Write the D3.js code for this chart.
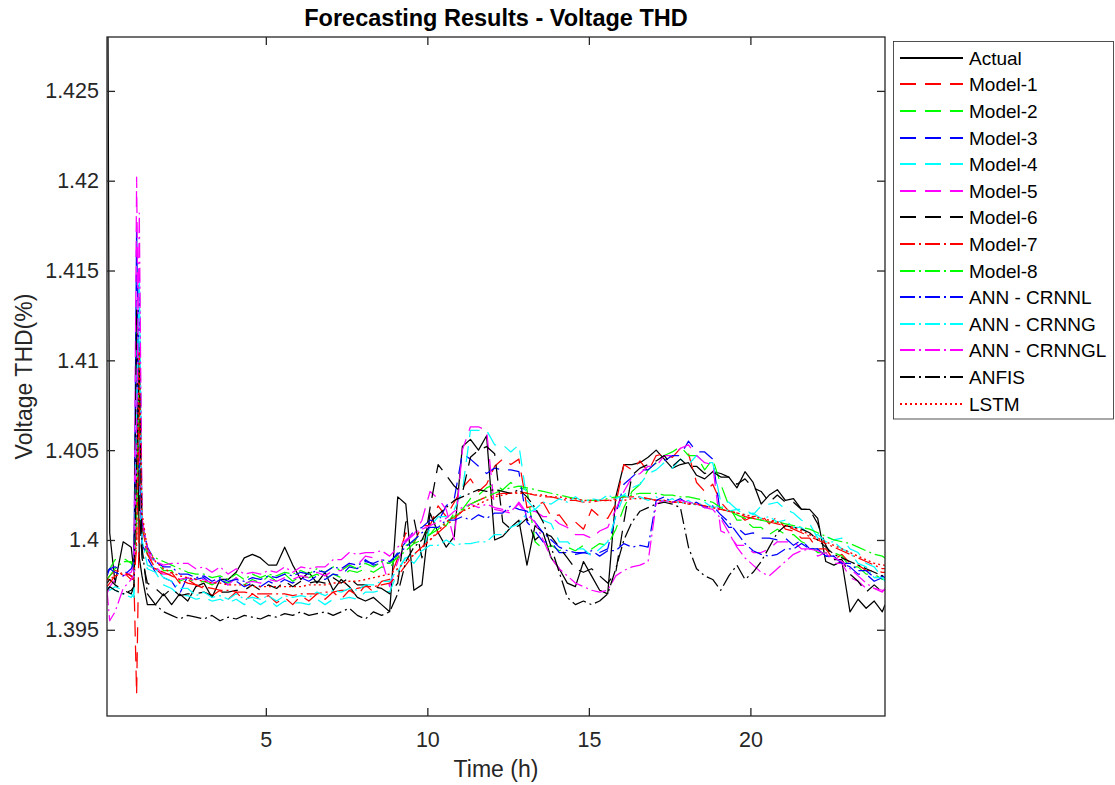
<!DOCTYPE html>
<html><head><meta charset="utf-8">
<script src="https://cdn.jsdelivr.net/npm/d3@7"></script>
<style>
html,body{margin:0;padding:0;background:#fff;}
svg{display:block;font-family:"Liberation Sans",Arial,Helvetica,sans-serif;}
</style></head><body>
<svg id="chart" width="1115" height="785"></svg>
<script>
// Sampling instants, counted in 5-minute steps since midnight
const sampleSteps = [1, 2, 4, 7, 10, 11, 12, 13, 14, 16].concat(d3.range(19, 290, 3), [290]);
const hours = sampleSteps.map(k => k / 12);

const hourLimits = [1 / 12, 290 / 12];
const thdLimits = [1.3902, 1.428];
const hourTicks = [5, 10, 15, 20];
const thdTicks = [1.395, 1.4, 1.405, 1.41, 1.415, 1.42, 1.425];

// Voltage THD (%) per series
const actual = [1.4450,1.4004,1.3976,1.3999,1.3996,1.3982,1.4125,1.3990,1.3980,1.3964,
1.3964,1.3970,1.3964,1.3970,1.3966,1.3974,1.3976,1.3968,1.3978,1.3978,
1.3982,1.3990,1.3992,1.3990,1.3986,1.3986,1.3996,1.3986,1.3978,1.3982,
1.3976,1.3982,1.3972,1.3978,1.3974,1.3968,1.3966,1.3968,1.3964,1.3960,
1.4024,1.4020,1.3972,1.3975,1.4015,1.4004,1.3996,1.4002,1.4052,1.4056,
1.4050,1.4058,1.4000,1.4002,1.4007,1.4011,1.3986,1.4008,1.4004,1.3990,
1.3984,1.3976,1.3974,1.3988,1.3980,1.3972,1.3970,1.4024,1.4042,1.4042,
1.4043,1.4046,1.4050,1.4045,1.4040,1.4042,1.4043,1.4036,1.4034,1.4038,
1.4037,1.4035,1.4029,1.4038,1.4032,1.4020,1.4025,1.4028,1.4022,1.4023,
1.4017,1.4017,1.4012,1.3988,1.3986,1.3988,1.3960,1.3967,1.3962,1.3966,1.3960,
1.3964];

const model1 = [1.3978,1.3980,1.3983,1.3982,1.3978,1.3978,1.3914,1.4012,1.3992,1.3986,
1.3984,1.3980,1.3982,1.3976,1.3978,1.3975,
1.3973,1.3969,1.3972,1.3967,1.3971,1.3966,1.3970,1.3967,
1.3969,1.3965,1.3968,1.3964,1.3969,1.3966,1.3970,1.3967,
1.3971,1.3967,1.3972,1.3969,1.3975,1.3971,1.3977,1.3978,
1.3990,1.4004,1.3998,1.4008,
1.4008,1.4019,1.4013,1.4021,1.4029,1.4034,1.4027,1.4031,
1.4041,1.4045,1.4042,1.4045,1.4018,
1.4019,1.4021,1.4013,1.4014,1.4008,1.4010,1.4006,
1.4017,1.4013,1.4012,1.4020,1.4042,1.4039,1.4044,1.4038,
1.4047,1.4048,1.4046,1.4051,1.4048,1.4032,1.4027,1.4031,
1.4021,1.4016,1.4015,1.4011,1.4013,1.4014,1.4009,1.4013,
1.4006,1.4005,1.4001,1.4001,1.3995,1.3995,1.3989,1.3992,
1.3987,1.3986,1.3983,1.3983,1.3982,
1.3982];

const model2 = [1.3982,1.3984,1.3989,1.3990,1.3987,1.3984,1.4020,1.4111,1.4000,1.3992,
1.3988,1.3983,1.3983,1.3977,1.3979,1.3976,
1.3977,1.3975,1.3978,1.3976,1.3979,1.3975,1.3978,1.3976,
1.3980,1.3977,1.3981,1.3977,1.3980,1.3979,1.3981,1.3978,
1.3981,1.3979,1.3983,1.3982,1.3984,1.3982,1.3985,1.3984,
1.3992,1.3997,1.3999,1.4005,
1.4003,1.4009,1.4008,1.4015,1.4017,1.4023,1.4025,1.4029,
1.4031,1.4028,1.4032,1.4029,1.4028,
1.3999,1.3995,1.3997,1.3994,1.3996,1.3994,1.3997,
1.3995,1.3998,1.3997,1.4006,1.4018,1.4027,1.4031,1.4039,
1.4043,1.4047,1.4049,1.4052,1.4047,1.4047,1.4039,1.4045,
1.4031,1.4019,1.4011,1.4011,1.4007,1.4007,1.4003,1.4006,
1.4003,1.4003,1.3999,1.3997,1.3993,1.3993,1.3993,1.3991,
1.3985,1.3985,1.3981,1.3981,1.3978,
1.3978];

const model3 = [1.3980,1.3984,1.3985,1.3983,1.3980,1.3978,1.4175,1.4040,1.3998,1.3990,
1.3982,1.3979,1.3977,1.3970,1.3980,1.3978,
1.3979,1.3975,1.3978,1.3975,1.3977,1.3974,1.3976,1.3974,
1.3977,1.3975,1.3978,1.3976,1.3979,1.3977,1.3980,1.3978,
1.3981,1.3980,1.3985,1.3984,1.3989,1.3986,1.3987,1.3987,
1.3993,1.3999,1.4005,1.4007,
1.4011,1.4010,1.4019,1.4023,1.4048,1.4045,1.4041,1.4037,
1.4040,1.4039,1.4039,1.4038,1.4010,
1.4005,1.3999,1.3999,1.3993,1.3993,1.3992,1.3993,
1.3992,1.3993,1.3995,1.4014,1.4031,1.4035,1.4039,1.4039,
1.4043,1.4044,1.4047,1.4047,1.4055,1.4049,1.4049,1.4045,
1.4013,1.4007,1.4007,1.4003,1.4004,1.4001,1.4001,1.4000,
1.4001,1.3997,1.4000,1.3995,1.3995,1.3991,1.3991,1.3987,
1.3985,1.3981,1.3981,1.3977,1.3979,
1.3977];

const model4 = [1.3974,1.3972,1.3974,1.3972,1.3970,1.3968,1.4120,1.4030,1.3992,1.3984,
1.3982,1.3975,1.3973,1.3969,1.3969,1.3967,
1.3968,1.3966,1.3967,1.3965,1.3967,1.3964,1.3967,1.3964,
1.3967,1.3963,1.3966,1.3965,1.3965,1.3964,1.3967,1.3964,
1.3967,1.3967,1.3968,1.3967,1.3971,1.3971,1.3972,1.3971,
1.3982,1.3991,1.3987,1.3993,
1.4007,1.4013,1.4013,1.4017,1.4027,1.4061,1.4061,1.4061,
1.4053,1.4053,1.4049,1.4053,1.4022,
1.4017,1.4011,1.4009,1.3999,1.3999,1.3995,1.3995,
1.3991,1.3995,1.3999,1.4013,1.4025,1.4029,1.4031,1.4037,
1.4039,1.4043,1.4040,1.4045,1.4042,1.4047,1.4043,1.4043,
1.4021,1.4021,1.4017,1.4017,1.4014,1.4019,1.4020,1.4021,
1.4017,1.4015,1.4011,1.4009,1.4001,1.4002,1.4000,1.4001,
1.3995,1.3993,1.3987,1.3985,1.3979,
1.3979];

const model5 = [1.3970,1.3974,1.3978,1.3980,1.3982,1.3986,1.4202,1.4050,1.4000,1.3994,
1.3985,1.3981,1.3981,1.3978,1.3979,1.3977,
1.3978,1.3976,1.3977,1.3975,1.3979,1.3976,1.3977,1.3976,
1.3978,1.3977,1.3979,1.3978,1.3980,1.3979,1.3982,1.3980,
1.3983,1.3983,1.3987,1.3986,1.3991,1.3990,1.3989,1.3974,
1.3988,1.3999,1.4003,1.4011,
1.4027,1.4023,1.4017,1.4000,1.4050,1.4063,1.4063,1.4061,
1.4017,1.4016,1.4015,1.4021,1.4015,
1.4016,1.4013,1.4013,1.4009,1.4007,1.4003,1.4003,
1.4001,1.4005,1.4007,1.4017,1.4027,1.4035,1.4037,1.4041,
1.4041,1.4047,1.4047,1.4051,1.4053,1.4047,1.4043,1.4042,
1.4005,1.4003,1.3997,1.3997,1.3993,1.3993,1.3995,1.3999,
1.3999,1.3999,1.3995,1.3995,1.3991,1.3993,1.3987,1.3987,
1.3979,1.3977,1.3973,1.3973,1.3971,
1.3973];

const model6 = [1.3976,1.3978,1.3975,1.3972,1.3970,1.3974,1.4128,1.4020,1.3990,1.3976,
1.3973,1.3969,1.3973,1.3969,1.3970,1.3970,
1.3971,1.3969,1.3971,1.3971,1.3972,1.3972,1.3975,1.3972,
1.3975,1.3973,1.3977,1.3974,1.3977,1.3976,1.3977,1.3976,
1.3979,1.3976,1.3979,1.3975,1.3975,1.3974,1.3973,1.3970,
1.3976,1.4010,1.4012,1.3990,
1.4018,1.4042,1.4036,1.4030,1.4026,1.4046,1.4050,1.4052,
1.4048,1.4010,1.4006,1.4008,1.4012,
1.4000,1.4004,1.4002,1.3996,1.3990,1.3984,1.3982,
1.3984,1.3980,1.3976,1.3982,1.4010,1.4036,1.4040,1.4042,
1.4044,1.4047,1.4041,1.4045,1.4041,1.4041,1.4037,1.4038,
1.4035,1.4035,1.4031,1.4034,1.4029,1.4027,1.4021,1.4025,
1.4021,1.4021,1.4017,1.4017,1.4009,1.3997,1.3989,1.3989,
1.3981,1.3977,1.3971,1.3975,1.3971,
1.3973];

const model7 = [1.3974,1.3976,1.3980,1.3982,1.3980,1.3978,1.3996,1.4080,1.4008,1.3992,
1.3984,1.3982,1.3980,1.3978,1.3976,1.3975,
1.3974,1.3973,1.3972,1.3972,1.3971,1.3971,1.3970,1.3970,
1.3970,1.3970,1.3970,1.3969,1.3970,1.3970,1.3970,1.3971,
1.3971,1.3972,1.3972,1.3973,1.3974,1.3974,1.3975,1.3976,
1.3980,1.3986,1.3992,1.3996,
1.4000,1.4004,1.4008,1.4012,1.4016,1.4020,1.4022,1.4024,
1.4025,1.4026,1.4026,1.4027,1.4026,
1.4025,1.4024,1.4024,1.4023,1.4022,1.4022,1.4021,
1.4021,1.4022,1.4022,1.4023,1.4024,1.4024,1.4024,1.4023,
1.4022,1.4022,1.4021,1.4021,1.4020,1.4020,1.4019,1.4018,
1.4017,1.4016,1.4015,1.4013,1.4012,1.4011,1.4010,1.4009,
1.4008,1.4006,1.4004,1.4002,1.4000,1.3998,1.3996,1.3994,
1.3992,1.3990,1.3988,1.3986,1.3984,
1.3984];

const model8 = [1.3978,1.3980,1.3984,1.3988,1.3988,1.3986,1.4010,1.4100,1.4012,1.3994,
1.3990,1.3988,1.3986,1.3984,1.3982,1.3981,
1.3981,1.3979,1.3980,1.3978,1.3981,1.3978,1.3981,1.3979,
1.3981,1.3980,1.3982,1.3981,1.3983,1.3981,1.3984,1.3982,
1.3985,1.3983,1.3986,1.3984,1.3987,1.3985,1.3988,1.3987,
1.3990,1.3994,1.3998,1.4000,
1.4003,1.4006,1.4010,1.4013,1.4016,1.4020,1.4022,1.4024,
1.4026,1.4028,1.4029,1.4030,1.4029,
1.4028,1.4027,1.4026,1.4025,1.4024,1.4023,1.4022,
1.4022,1.4022,1.4023,1.4024,1.4024,1.4025,1.4026,1.4026,
1.4026,1.4025,1.4025,1.4024,1.4024,1.4023,1.4022,1.4021,
1.4018,1.4016,1.4014,1.4012,1.4012,1.4011,1.4010,1.4010,
1.4009,1.4008,1.4007,1.4006,1.4004,1.4002,1.4000,1.3999,
1.3998,1.3996,1.3994,1.3992,1.3991,
1.3990];

const annCrnnl = [1.3982,1.3984,1.3982,1.3980,1.3984,1.3988,1.4050,1.4150,1.4010,1.3996,
1.3988,1.3985,1.3985,1.3981,1.3981,1.3979,
1.3980,1.3977,1.3979,1.3977,1.3978,1.3977,1.3979,1.3978,
1.3980,1.3979,1.3981,1.3980,1.3982,1.3981,1.3983,1.3982,
1.3985,1.3984,1.3987,1.3986,1.3988,1.3987,1.3989,1.3988,
1.3992,1.3996,1.4000,1.4004,
1.4007,1.4007,1.4011,1.4011,1.4013,1.4011,1.4014,1.4012,
1.4015,1.4015,1.4019,1.4017,1.4016,
1.4010,1.4004,1.4000,1.3996,1.3994,1.3993,1.3993,
1.3994,1.3991,1.3994,1.3994,1.3998,1.3996,1.3997,1.3996,
1.4022,1.4024,1.4021,1.4023,1.4020,1.4021,1.4018,1.4019,
1.4014,1.4010,1.4004,1.3998,1.3994,1.3992,1.3991,1.3992,
1.3995,1.3995,1.3998,1.3995,1.3995,1.3991,1.3991,1.3987,
1.3987,1.3983,1.3983,1.3979,1.3980,
1.3979];

const annCrnng = [1.3972,1.3974,1.3972,1.3970,1.3968,1.3970,1.4070,1.4145,1.4000,1.3986,
1.3984,1.3979,1.3977,1.3973,1.3973,1.3969,
1.3971,1.3968,1.3969,1.3967,1.3970,1.3967,1.3968,1.3967,
1.3969,1.3966,1.3969,1.3968,1.3969,1.3968,1.3971,1.3969,
1.3972,1.3971,1.3973,1.3972,1.3975,1.3975,1.3977,1.3977,
1.3984,1.3990,1.3992,1.3994,
1.3997,1.3997,1.4000,1.3997,1.3998,1.3998,1.3999,1.3999,
1.4003,1.4003,1.4007,1.4009,1.4015,
1.4017,1.4021,1.4020,1.4023,1.4021,1.4024,1.4021,
1.4023,1.4022,1.4025,1.4023,1.4025,1.4023,1.4024,1.4022,
1.4024,1.4021,1.4023,1.4020,1.4022,1.4019,1.4021,1.4018,
1.4019,1.4016,1.4017,1.4014,1.4015,1.4012,1.4013,1.4010,
1.4011,1.4007,1.4007,1.4003,1.4003,1.3999,1.3999,1.3995,
1.3993,1.3987,1.3985,1.3979,1.3979,
1.3977];

const annCrnngl = [1.3972,1.3955,1.3960,1.3973,1.3978,1.3980,1.4060,1.4182,1.4012,1.3995,
1.3988,1.3986,1.3987,1.3987,1.3987,1.3984,
1.3985,1.3982,1.3985,1.3981,1.3984,1.3981,1.3982,1.3981,
1.3983,1.3982,1.3985,1.3982,1.3985,1.3984,1.3985,1.3985,
1.3989,1.3989,1.3993,1.3992,1.3993,1.3993,1.3994,1.3991,
1.3996,1.4000,1.4004,1.4006,
1.4008,1.4010,1.4012,1.4016,1.4018,1.4020,1.4018,1.4020,
1.4018,1.4017,1.4016,1.4020,1.4014,
1.4010,1.4000,1.3990,1.3984,1.3980,1.3976,1.3974,
1.3972,1.3971,1.3972,1.3980,1.3983,1.3985,1.3986,1.3988,
1.4020,1.4022,1.4021,1.4022,1.4021,1.4020,1.4018,1.4017,
1.4012,1.4004,1.3996,1.3990,1.3986,1.3982,1.3980,1.3984,
1.3988,1.3992,1.3994,1.3995,1.3994,1.3992,1.3990,1.3988,
1.3984,1.3980,1.3976,1.3973,1.3972,
1.3972];

const anfis = [1.3972,1.3974,1.3972,1.3970,1.3972,1.3974,1.4040,1.4095,1.3996,1.3970,
1.3964,1.3960,1.3958,1.3956,1.3958,1.3957,
1.3956,1.3958,1.3955,1.3957,1.3956,1.3958,1.3957,1.3956,
1.3958,1.3957,1.3959,1.3958,1.3960,1.3958,1.3959,1.3960,
1.3958,1.3960,1.3962,1.3958,1.3956,1.3960,1.3958,1.3960,
1.3970,1.3988,1.3996,1.4000,
1.4010,1.4014,1.4018,1.4022,1.4024,1.4026,1.4028,1.4027,
1.4028,1.4027,1.4026,1.4028,1.4024,
1.4018,1.4010,1.3996,1.3982,1.3968,1.3964,1.3966,
1.3964,1.3966,1.3970,1.3984,1.4000,1.4010,1.4016,1.4018,
1.4020,1.4021,1.4020,1.4018,1.3996,1.3984,1.3980,1.3978,
1.3972,1.3980,1.3986,1.3978,1.3982,1.3988,1.3996,1.4004,
1.4008,1.4007,1.4006,1.4004,1.4000,1.3996,1.3992,1.3990,
1.3988,1.3986,1.3984,1.3982,1.3980,
1.3980];

const lstm = [1.3978,1.3978,1.3980,1.3981,1.3980,1.3980,1.4000,1.4105,1.4015,1.3995,
1.3988,1.3984,1.3982,1.3980,1.3979,1.3978,
1.3977,1.3976,1.3976,1.3975,1.3975,1.3975,1.3974,1.3974,
1.3974,1.3974,1.3974,1.3974,1.3974,1.3975,1.3975,1.3975,
1.3976,1.3976,1.3977,1.3977,1.3978,1.3979,1.3980,1.3981,
1.3984,1.3988,1.3992,1.3996,
1.4000,1.4005,1.4010,1.4013,1.4016,1.4018,1.4020,1.4022,
1.4024,1.4025,1.4026,1.4026,1.4026,
1.4025,1.4025,1.4024,1.4024,1.4023,1.4023,1.4022,
1.4022,1.4022,1.4022,1.4022,1.4022,1.4023,1.4023,1.4023,
1.4022,1.4022,1.4021,1.4021,1.4020,1.4020,1.4019,1.4018,
1.4017,1.4016,1.4015,1.4014,1.4013,1.4012,1.4011,1.4010,
1.4008,1.4007,1.4005,1.4003,1.4001,1.3999,1.3997,1.3995,
1.3993,1.3991,1.3989,1.3987,1.3986,
1.3986];

// Line styles (MATLAB-like '-', '--', '-.', ':')
const DASH = "16,9", DASHDOT = "15,4,2,4", DOT = "2,3";
const series = [
  {name: "Actual",        values: actual,    color: "#000000", dash: null},
  {name: "Model-1",       values: model1,    color: "#ff0000", dash: DASH},
  {name: "Model-2",       values: model2,    color: "#00ff00", dash: DASH},
  {name: "Model-3",       values: model3,    color: "#0000ff", dash: DASH},
  {name: "Model-4",       values: model4,    color: "#00ffff", dash: DASH},
  {name: "Model-5",       values: model5,    color: "#ff00ff", dash: DASH},
  {name: "Model-6",       values: model6,    color: "#000000", dash: DASH},
  {name: "Model-7",       values: model7,    color: "#ff0000", dash: DASHDOT},
  {name: "Model-8",       values: model8,    color: "#00ff00", dash: DASHDOT},
  {name: "ANN - CRNNL",   values: annCrnnl,  color: "#0000ff", dash: DASHDOT},
  {name: "ANN - CRNNG",   values: annCrnng,  color: "#00ffff", dash: DASHDOT},
  {name: "ANN - CRNNGL",  values: annCrnngl, color: "#ff00ff", dash: DASHDOT},
  {name: "ANFIS",         values: anfis,     color: "#000000", dash: DASHDOT},
  {name: "LSTM",          values: lstm,      color: "#ff0000", dash: DOT}
];
series.forEach(s => { if (s.values.length !== hours.length) console.error(s.name, s.values.length, hours.length); });

const svg = d3.select("#chart");
const plot = {left: 107, right: 885, top: 37, bottom: 716};
const axisColor = "#262626";
const fontFamily = '"Liberation Sans", Arial, sans-serif';

svg.append("rect").attr("width", 1115).attr("height", 785).attr("fill", "#fff");

const x = d3.scaleLinear().domain(hourLimits).range([plot.left, plot.right]);
const y = d3.scaleLinear().domain(thdLimits).range([plot.bottom, plot.top]);

svg.append("defs").append("clipPath").attr("id", "plot-clip")
  .append("rect").attr("x", plot.left).attr("y", plot.top)
  .attr("width", plot.right - plot.left).attr("height", plot.bottom - plot.top);

const line = d3.line().x((d, i) => x(hours[i])).y(d => y(d));

const linesG = svg.append("g").attr("clip-path", "url(#plot-clip)");
series.forEach(s => {
  linesG.append("path")
    .attr("d", line(s.values))
    .attr("fill", "none")
    .attr("stroke", s.color)
    .attr("stroke-width", s.dash === DOT ? 1.4 : 1.25)
    .attr("stroke-dasharray", s.dash)
    .attr("stroke-linejoin", "round");
});

// Axes with inward ticks on all four sides
const fmt = v => String(+v.toFixed(3));
function styleAxis(g) {
  g.select(".domain").remove();
  g.selectAll(".tick line").attr("stroke", axisColor).attr("stroke-width", 1.3);
  g.selectAll(".tick text").attr("fill", axisColor).style("font-size", "21.5px")
    .style("font-family", fontFamily);
}
svg.append("g").attr("transform", `translate(0,${plot.bottom})`)
  .call(d3.axisBottom(x).tickValues(hourTicks).tickSize(-8).tickPadding(16).tickFormat(d3.format("d")))
  .call(styleAxis);
svg.append("g").attr("transform", `translate(0,${plot.top})`)
  .call(d3.axisTop(x).tickValues(hourTicks).tickSize(-8).tickFormat(""))
  .call(styleAxis);
svg.append("g").attr("transform", `translate(${plot.left},0)`)
  .call(d3.axisLeft(y).tickValues(thdTicks).tickSize(-8).tickPadding(8).tickFormat(fmt))
  .call(styleAxis);
svg.append("g").attr("transform", `translate(${plot.right},0)`)
  .call(d3.axisRight(y).tickValues(thdTicks).tickSize(-8).tickFormat(""))
  .call(styleAxis);

svg.append("rect")
  .attr("x", plot.left).attr("y", plot.top)
  .attr("width", plot.right - plot.left).attr("height", plot.bottom - plot.top)
  .attr("fill", "none").attr("stroke", axisColor).attr("stroke-width", 1.3);

// Titles
svg.append("text").attr("x", (plot.left + plot.right) / 2).attr("y", 26)
  .attr("text-anchor", "middle").style("font-size", "23.5px").style("font-weight", "bold")
  .attr("fill", "#000").text("Forecasting Results - Voltage THD");
svg.append("text").attr("x", (plot.left + plot.right) / 2).attr("y", 777)
  .attr("text-anchor", "middle").style("font-size", "23px").attr("fill", axisColor).text("Time (h)");
svg.append("text").attr("transform", `translate(31.5,${(plot.top + plot.bottom) / 2}) rotate(-90)`)
  .attr("text-anchor", "middle").style("font-size", "23px").attr("fill", axisColor).text("Voltage THD(%)");

// Legend
const legend = {left: 893.5, top: 41.5, width: 220, height: 377.5, row0: 57.7, rowStep: 26.6};
const lg = svg.append("g");
lg.append("rect").attr("x", legend.left).attr("y", legend.top)
  .attr("width", legend.width).attr("height", legend.height)
  .attr("fill", "#fff").attr("stroke", axisColor).attr("stroke-width", 0.8);
series.forEach((s, i) => {
  const cy = Math.round(legend.row0 + i * legend.rowStep);
  lg.append("line").attr("x1", 900).attr("x2", 963).attr("y1", cy).attr("y2", cy)
    .attr("stroke", s.color).attr("stroke-width", s.dash === DOT ? 2 : 1.8)
    .attr("stroke-dasharray", s.dash);
  lg.append("text").attr("x", 969).attr("y", cy).attr("dy", "0.35em")
    .style("font-size", "19px").attr("fill", "#000").text(s.name);
});
</script>
</body></html>
